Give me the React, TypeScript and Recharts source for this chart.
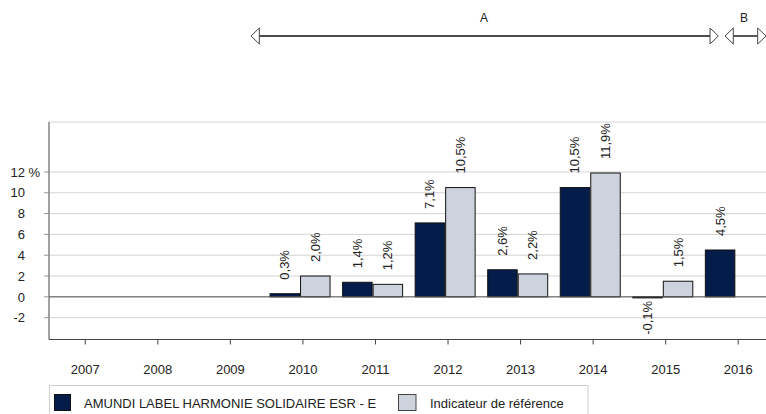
import React from 'react';
import { BarChart, Bar, XAxis, YAxis, CartesianGrid, ReferenceLine, LabelList } from 'recharts';

const years = ['2007', '2008', '2009', '2010', '2011', '2012', '2013', '2014', '2015', '2016'];
const fundValues: (number | null)[] = [null, null, null, 0.3, 1.4, 7.1, 2.6, 10.5, -0.1, 4.5];
const benchValues: (number | null)[] = [null, null, null, 2.0, 1.2, 10.5, 2.2, 11.9, 1.5, null];
const yTicks = [-2, 0, 2, 4, 6, 8, 10, 12];
const fundName = 'AMUNDI LABEL HARMONIE SOLIDAIRE ESR - E';
const benchName = 'Indicateur de référence';
const periodA = 'A';
const periodB = 'B';

const data = years.map((year, i) => ({ year, fund: fundValues[i], bench: benchValues[i] }));

const FONT = "'Liberation Sans', Arial, Helvetica, sans-serif";
const DARK = '#031c4a';
const LIGHT = '#ccd3dd';
const SHIFT = -2.6;

const fmt = (v: number) => v.toFixed(1).replace('.', ',') + '%';

const ShiftedRect = (props: any) => {
  const { x, y, width, height, fill } = props;
  if (x == null || y == null || height == null || width == null) return null;
  let yy = y;
  let hh = height;
  if (hh < 0) {
    yy = y + hh;
    hh = -hh;
  }
  if (hh < 1) hh = 1;
  return <rect x={x + SHIFT} y={yy} width={width} height={hh} fill={fill} stroke="#111" strokeWidth={1} />;
};

const ValueLabel = (props: any) => {
  const { x, y, width, height, value } = props;
  if (value == null || x == null) return null;
  const v = Number(value);
  const cx = x + width / 2 + SHIFT;
  const top = Math.min(y, y + height);
  const bottom = Math.max(y, y + height);
  if (v >= 0) {
    const ly = top - 14;
    return (
      <text x={cx} y={ly} transform={`rotate(-90 ${cx} ${ly})`} textAnchor="start" dominantBaseline="central"
        fontSize={13} fontFamily={FONT} fill="#222">{fmt(v)}</text>
    );
  }
  const ly = bottom + 3;
  return (
    <text x={cx} y={ly} transform={`rotate(-90 ${cx} ${ly})`} textAnchor="end" dominantBaseline="central"
      fontSize={13} fontFamily={FONT} fill="#222">{fmt(v)}</text>
  );
};

const XTick = (props: any) => {
  const { x, y, payload } = props;
  return (
    <text x={x} y={y + 27} textAnchor="middle" fontSize={13} fontFamily={FONT} fill="#222">{payload.value}</text>
  );
};

const YTick = (props: any) => {
  const { x, y, payload } = props;
  const v = payload.value;
  return (
    <g>
      <text x={x} y={y} dy="0.36em" textAnchor="end" fontSize={13} fontFamily={FONT} fill="#222">{v}</text>
      {v === 12 ? (
        <text x={x + 3.5} y={y} dy="0.36em" textAnchor="start" fontSize={13} fontFamily={FONT} fill="#222">%</text>
      ) : null}
    </g>
  );
};

const Arrow = ({ x1, x2, y }: { x1: number; x2: number; y: number }) => (
  <g>
    <line x1={x1 + 8} y1={y} x2={x2 - 8} y2={y} stroke="#111" strokeWidth={1.4} />
    <polygon points={`${x1},${y} ${x1 + 8.3},${y - 8} ${x1 + 8.3},${y + 8}`} fill="#fff" stroke="#444" strokeWidth={1} />
    <polygon points={`${x2},${y} ${x2 - 8.3},${y - 8} ${x2 - 8.3},${y + 8}`} fill="#fff" stroke="#444" strokeWidth={1} />
  </g>
);

export default function App() {
  return (
    <div style={{ position: 'absolute', left: 0, top: 0, width: 766, height: 414, overflow: 'hidden', background: '#fff', fontFamily: FONT }}>
      <BarChart
        width={780}
        height={414}
        data={data}
        margin={{ top: 122, right: 5.5, bottom: 44.5, left: 9 }}
        barGap={1}
        barSize={29.5}
      >
        <CartesianGrid vertical={false} stroke="#d4d4d4" strokeWidth={1} />
        <XAxis
          dataKey="year"
          height={30}
          axisLine={{ stroke: '#444' }}
          tickLine={{ stroke: '#444' }}
          tickSize={5}
          tick={<XTick />}
          interval={0}
        />
        <YAxis
          width={40}
          domain={[-4.1, 16.8]}
          ticks={yTicks}
          interval={0}
          allowDataOverflow
          axisLine={{ stroke: '#444' }}
          tickLine={{ stroke: '#999' }}
          tickSize={5}
          tickMargin={19}
          tick={<YTick />}
        />
        <ReferenceLine y={0} stroke="#555" strokeWidth={1} />
        <Bar dataKey="fund" name={fundName} fill={DARK} shape={<ShiftedRect />} isAnimationActive={false}>
          <LabelList dataKey="fund" content={<ValueLabel />} />
        </Bar>
        <Bar dataKey="bench" name={benchName} fill={LIGHT} shape={<ShiftedRect />} isAnimationActive={false}>
          <LabelList dataKey="bench" content={<ValueLabel />} />
        </Bar>
      </BarChart>
      <svg width={766} height={414} style={{ position: 'absolute', left: 0, top: 0, pointerEvents: 'none' }}>
        <Arrow x1={251} x2={718.3} y={36} />
        <Arrow x1={725} x2={766} y={36} />
        <text x={484} y={22} textAnchor="middle" fontSize={12} fontFamily={FONT} fill="#222">{periodA}</text>
        <text x={744} y={22} textAnchor="middle" fontSize={12} fontFamily={FONT} fill="#222">{periodB}</text>
        <rect x={49.5} y={385.5} width={538.5} height={40} fill="none" stroke="#cfcfcf" strokeWidth={1} />
        <rect x={54.5} y={394.5} width={16} height={16} fill={DARK} stroke="#111" strokeWidth={1} />
        <text x={84} y={408} fontSize={13} fontFamily={FONT} fill="#222">{fundName}</text>
        <rect x={398.5} y={394.5} width={17.5} height={16} fill={LIGHT} stroke="#444" strokeWidth={1} />
        <text x={430} y={408} fontSize={13} fontFamily={FONT} fill="#222">{benchName}</text>
      </svg>
    </div>
  );
}
